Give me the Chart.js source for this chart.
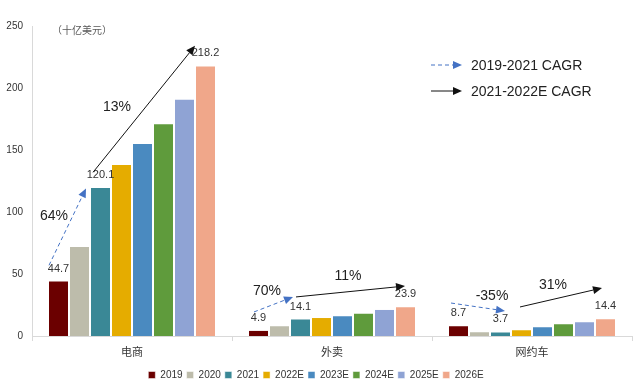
<!DOCTYPE html>
<html>
<head>
<meta charset="utf-8">
<script src="https://cdn.jsdelivr.net/npm/chart.js@4.4.1/dist/chart.umd.min.js"></script>
<style>
  html, body { margin: 0; padding: 0; background: #fff; }
  #wrap { width: 640px; height: 386px; }
</style>
</head>
<body>
<div id="wrap"><canvas id="chart"></canvas></div>
<script>
const categories = ['电商', '外卖', '网约车'];
const years = ['2019', '2020', '2021', '2022E', '2023E', '2024E', '2025E', '2026E'];
const ecommerce = [44.7, 72.6, 120.1, 138.7, 155.6, 171.5, 191.4, 218.2];
const delivery = [4.9, 8.6, 14.1, 15.3, 16.7, 18.8, 21.8, 23.9];
const rideHailing = [8.7, 3.8, 3.7, 5.4, 7.8, 10.2, 11.8, 14.4];
const labeledYears = ['2019', '2021', '2026E'];
const cagr1921 = ['64%', '70%', '-35%'];
const cagr2122 = ['13%', '11%', '31%'];
const unitLabel = '（十亿美元）';
const cagrLegend = ['2019-2021 CAGR', '2021-2022E CAGR'];

const yearColors = ['#6b0000', '#bdbcab', '#3a8896', '#e5ac00', '#4a8ac0', '#5f9b3c', '#8fa3d4', '#f0a78a'];

// arrow anchors: [x offset from category centre (in category units), y value, x2, y2]
const dashArrows = [[-0.415, 57, -0.23, 119], [-0.39, 19.4, -0.195, 31.5], [-0.405, 26.6, -0.135, 20.2]];
const solidArrows = [[-0.195, 132, 0.315, 234], [-0.18, 31.5, 0.365, 40.3], [-0.06, 23.4, 0.35, 38.7]];
const dashLabelAt = [[-0.39, 97], [-0.325, 36.3], [-0.2, 32.3]];
const solidLabelAt = [[-0.075, 184.7], [0.08, 48.4], [0.105, 41]];

const FONT = '"Liberation Sans", Arial, "Noto Sans CJK SC", sans-serif';
const DASH_COLOR = '#4472c4';

const drawArrow = (ctx, x0, y0, x1, y1, color, dashed) => {
  const ang = Math.atan2(y1 - y0, x1 - x0);
  const head = 9;
  const half = 4;
  ctx.save();
  ctx.strokeStyle = color;
  ctx.fillStyle = color;
  ctx.lineWidth = 1;
  ctx.setLineDash(dashed ? [4, 3] : []);
  ctx.beginPath();
  ctx.moveTo(x0, y0);
  ctx.lineTo(x1 - head * Math.cos(ang), y1 - head * Math.sin(ang));
  ctx.stroke();
  ctx.setLineDash([]);
  ctx.beginPath();
  ctx.moveTo(x1, y1);
  ctx.lineTo(x1 - head * Math.cos(ang) + half * Math.sin(ang), y1 - head * Math.sin(ang) - half * Math.cos(ang));
  ctx.lineTo(x1 - head * Math.cos(ang) - half * Math.sin(ang), y1 - head * Math.sin(ang) + half * Math.cos(ang));
  ctx.closePath();
  ctx.fill();
  ctx.restore();
};

const annotations = {
  id: 'annotations',
  afterDatasetsDraw(chart) {
    const { ctx, chartArea } = chart;
    const xs = chart.scales.x;
    const ys = chart.scales.y;
    const px = (cat, off) => xs.getPixelForValue(cat + off);

    ctx.save();
    // value labels on selected bars
    ctx.font = `11px ${FONT}`;
    ctx.fillStyle = '#333';
    ctx.textAlign = 'center';
    ctx.textBaseline = 'middle';
    chart.data.datasets.forEach((ds, di) => {
      if (!labeledYears.includes(ds.label)) return;
      chart.getDatasetMeta(di).data.forEach((bar, i) => {
        ctx.fillText(ds.data[i].toFixed(1), bar.x, bar.y - 12);
      });
    });

    // CAGR arrows and labels
    categories.forEach((c, i) => {
      const d = dashArrows[i];
      drawArrow(ctx, px(i, d[0]), ys.getPixelForValue(d[1]), px(i, d[2]), ys.getPixelForValue(d[3]), DASH_COLOR, true);
      const s = solidArrows[i];
      drawArrow(ctx, px(i, s[0]), ys.getPixelForValue(s[1]), px(i, s[2]), ys.getPixelForValue(s[3]), '#111', false);
      ctx.font = `14px ${FONT}`;
      ctx.fillStyle = '#222';
      ctx.fillText(cagr1921[i], px(i, dashLabelAt[i][0]), ys.getPixelForValue(dashLabelAt[i][1]));
      ctx.fillText(cagr2122[i], px(i, solidLabelAt[i][0]), ys.getPixelForValue(solidLabelAt[i][1]));
    });

    // unit label
    ctx.font = `10px ${FONT}`;
    ctx.fillStyle = '#595959';
    ctx.textAlign = 'left';
    ctx.fillText(unitLabel, chartArea.left + 20, chartArea.top + 5);

    // arrow legend, top right
    const lx = chartArea.left + 399;
    const ly = chartArea.top + 39;
    drawArrow(ctx, lx, ly, lx + 31, ly, DASH_COLOR, true);
    drawArrow(ctx, lx, ly + 26, lx + 31, ly + 26, '#111', false);
    ctx.font = `14px ${FONT}`;
    ctx.fillStyle = '#222';
    ctx.fillText(cagrLegend[0], lx + 40, ly + 1);
    ctx.fillText(cagrLegend[1], lx + 40, ly + 27);
    ctx.restore();
  },
};

const series = [ecommerce, delivery, rideHailing];
const datasets = years.map((y, i) => ({
  label: y,
  data: series.map((s) => s[i]),
  backgroundColor: yearColors[i],
  borderColor: 'rgba(255,255,255,0.5)',
  borderWidth: 1,
  categoryPercentage: 0.84,
  barPercentage: 1.0,
}));

new Chart(document.getElementById('chart'), {
  type: 'bar',
  data: { labels: categories, datasets },
  plugins: [annotations],
  options: {
    responsive: true,
    maintainAspectRatio: false,
    animation: false,
    layout: { padding: { top: 26, right: 8, left: 0, bottom: -4 } },
    scales: {
      x: {
        grid: { drawOnChartArea: false, color: '#d9d9d9', tickLength: 5 },
        border: { color: '#d9d9d9' },
        ticks: { color: '#333', padding: 5, font: { size: 11, family: FONT } },
        afterFit: (scale) => { scale.height = 30; },
      },
      y: {
        min: 0,
        max: 250,
        grid: { display: false, drawTicks: false },
        border: { color: '#d9d9d9' },
        ticks: { stepSize: 50, color: '#333', padding: 9, font: { size: 10, family: FONT } },
        afterFit: (scale) => { scale.width = 32; },
      },
    },
    plugins: {
      legend: {
        position: 'bottom',
        labels: {
          boxWidth: 7,
          boxHeight: 7,
          padding: 4,
          color: '#333',
          font: { size: 10, family: FONT },
        },
      },
      tooltip: { enabled: false },
    },
  },
});
</script>
</body>
</html>
